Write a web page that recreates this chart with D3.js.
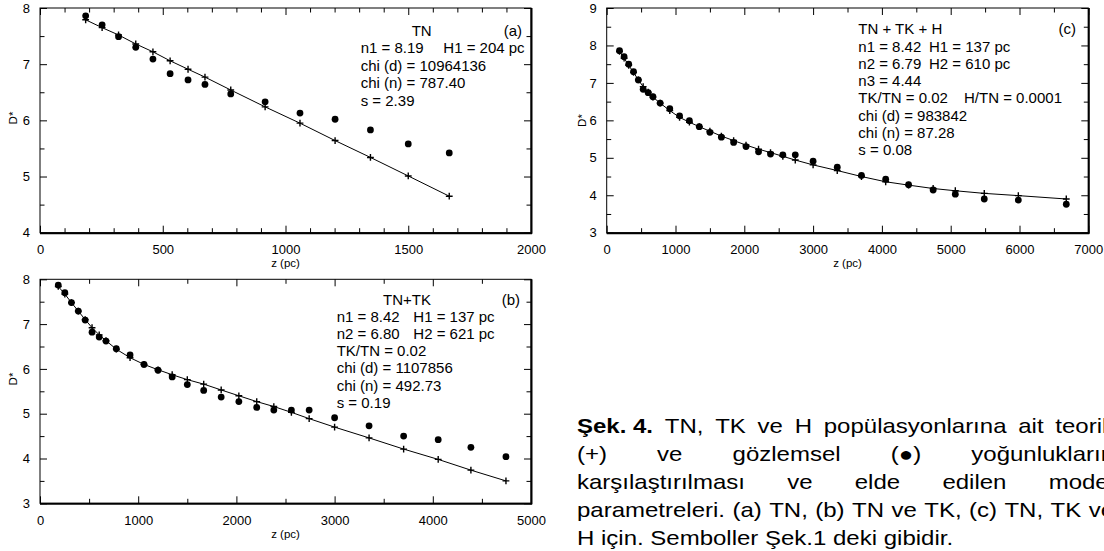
<!DOCTYPE html>
<html lang="tr">
<head>
<meta charset="utf-8">
<title>Şek. 4</title>
<script src="https://cdn.jsdelivr.net/npm/d3@7"></script>
<style>
  body { margin:0; background:#fff; }
  svg { display:block; font-family:"Liberation Sans", Arial, sans-serif; }
  .frame { fill:none; stroke:#000; stroke-width:1; }
  .edge { stroke:#000; stroke-width:2; }
  .axis path { display:none; }
  .axis line { stroke:#000; stroke-width:1; }
  .axis text { font-size:13px; fill:#000; font-family:"Liberation Sans", Arial, sans-serif; }
  .model { fill:none; stroke:#000; stroke-width:1; }
  .plus { fill:none; stroke:#000; stroke-width:1.4; }
  .dot { fill:#000; }
  .note { font-size:15px; fill:#000; }
  .title { font-size:11.5px; fill:#000; }
  .cap { font-size:20px; fill:#000; }
</style>
</head>
<body>
<script>
// z (pc) values of the counts
var zA = [186, 253, 320, 390, 460, 530, 603, 672, 777, 917, 1059, 1202, 1346, 1500, 1667];
var zB = zA.concat([1845, 2025, 2207, 2381, 2560, 2741, 3000, 3351, 3703, 4055, 4388, 4745]);
var zC = zB.concat([5067, 5488, 5983, 6680]);

// observed (dots) and model (+) log densities
var obsA = [7.86, 7.70, 7.49, 7.30, 7.09, 6.83, 6.72, 6.64, 6.47, 6.33, 6.13, 6.02, 5.83, 5.58, 5.42];
var modA = [7.79, 7.65, 7.52, 7.36, 7.22, 7.06, 6.91, 6.77, 6.54, 6.24, 5.95, 5.64, 5.34, 5.01, 4.65];

var obsB = [7.87, 7.70, 7.48, 7.29, 7.09, 6.82, 6.71, 6.62, 6.45, 6.31, 6.10, 5.97, 5.82, 5.65, 5.52,
            5.37, 5.27, 5.14, 5.08, 5.08, 5.08, 4.91, 4.73, 4.50, 4.42, 4.25, 4.04];
var modB = [7.84, 7.67, 7.48, 7.29, 7.10, 6.92, 6.76, 6.63, 6.44, 6.25, 6.10, 5.98, 5.87, 5.76, 5.66,
            5.53, 5.40, 5.27, 5.16, 5.03, 4.89, 4.70, 4.46, 4.21, 3.98, 3.74, 3.50];

var obsC = [7.86, 7.70, 7.50, 7.30, 7.08, 6.83, 6.74, 6.63, 6.46, 6.31, 6.12, 5.99, 5.83, 5.68, 5.55,
            5.41, 5.30, 5.16, 5.10, 5.08, 5.08, 4.91, 4.75, 4.53, 4.43, 4.28, 4.14, 4.03, 3.90, 3.87, 3.76];
var modC = [7.84, 7.66, 7.47, 7.28, 7.08, 6.90, 6.75, 6.62, 6.46, 6.26, 6.08, 5.95, 5.83, 5.71, 5.58,
            5.46, 5.34, 5.23, 5.14, 5.04, 4.94, 4.81, 4.66, 4.50, 4.36, 4.27, 4.18, 4.12, 4.05, 3.99, 3.90];

// text in the panels
var notesA = [["TN"], ["n1 = 8.19", "H1 = 204 pc"], ["chi (d) = 10964136"], ["chi (n) = 787.40"], ["s = 2.39"]];
var notesB = [["TN+TK"], ["n1 = 8.42", "H1 = 137 pc"], ["n2 = 6.80", "H2 = 621 pc"], ["TK/TN = 0.02"],
              ["chi (d) = 1107856"], ["chi (n) = 492.73"], ["s = 0.19"]];
var notesC = [["TN + TK + H"], ["n1 = 8.42", "H1 = 137 pc"], ["n2 = 6.79", "H2 = 610 pc"], ["n3 = 4.44"],
              ["TK/TN = 0.02", "H/TN = 0.0001"], ["chi (d) = 983842"], ["chi (n) = 87.28"], ["s = 0.08"]];

var capLines = [
  ["Şek. 4.", "TN,", "TK", "ve", "H", "popülasyonlarına", "ait", "teorik"],
  ["(+)", "ve", "gözlemsel", "(●)", "yoğunlukların"],
  ["karşılaştırılması", "ve", "elde", "edilen", "model"],
  ["parametreleri.", "(a)", "TN,", "(b)", "TN", "ve", "TK,", "(c)", "TN,", "TK", "ve"],
  ["H", "için.", "Semboller", "Şek.1", "deki", "gibidir."]
];

var w = 1104, h = 551;
var svg = d3.select("body").append("svg").attr("width", w).attr("height", h);

var panels = [
  { tag:"(a)", z:zA, obs:obsA, mod:modA, notes:notesA,
    L:40, R:531, T:8, B:232.7, xd:[0, 2000], yd:[4, 8], xMaj:500, xMin:100,
    noteX:360.7, col2:[0, 443.3], titleX:421.7, titleAnchor:"middle", base:36, step:17.4, tagX:522,
    yTitleX:16.5, yTitleY:118 },
  { tag:"(b)", z:zB, obs:obsB, mod:modB, notes:notesB,
    L:40, R:531, T:279.3, B:503.3, xd:[0, 5000], yd:[3, 8], xMaj:1000, xMin:500,
    noteX:336.7, col2:[0, 413.3, 413.3], titleX:407, titleAnchor:"middle", base:304.5, step:17.2, tagX:520,
    yTitleX:16.5, yTitleY:379 },
  { tag:"(c)", z:zC, obs:obsC, mod:modC, notes:notesC,
    L:606.7, R:1088.3, T:8, B:232.7, xd:[0, 7000], yd:[3, 9], xMaj:1000, xMin:500,
    noteX:858.3, col2:[0, 929, 929, 0, 964], titleX:858.3, titleAnchor:"start", base:34.2, step:17.3, tagX:1076,
    yTitleX:585.5, yTitleY:120.5 }
];

panels.forEach(function (p) {
  var x = d3.scaleLinear().domain(p.xd).range([p.L, p.R]);
  var y = d3.scaleLinear().domain(p.yd).range([p.B, p.T]);

  var xMajor = d3.range(p.xd[0], p.xd[1] + 1, p.xMaj);
  var xMinor = d3.range(p.xd[0], p.xd[1] + 1, p.xMin).filter(function (v) { return v % p.xMaj !== 0; });
  var yMajor = d3.range(p.yd[0], p.yd[1] + 0.01, 1);
  var yMinor = d3.range(p.yd[0] + 0.5, p.yd[1], 1);

  function addAxis(axis, tx, ty) {
    svg.append("g").attr("class", "axis")
       .attr("transform", "translate(" + tx + "," + ty + ")")
       .call(axis);
  }
  // labelled axes
  addAxis(d3.axisBottom(x).tickValues(xMajor).tickSizeInner(-7).tickSizeOuter(0).tickPadding(12.3)
            .tickFormat(d3.format("d")), 0, p.B);
  addAxis(d3.axisLeft(y).tickValues(yMajor).tickSizeInner(-7).tickSizeOuter(0).tickPadding(10)
            .tickFormat(d3.format("d")), p.L, 0);
  // minor ticks and mirrored ticks
  addAxis(d3.axisBottom(x).tickValues(xMinor).tickSizeInner(-4.5).tickSizeOuter(0).tickFormat(""), 0, p.B);
  addAxis(d3.axisTop(x).tickValues(xMajor).tickSizeInner(-7).tickSizeOuter(0).tickFormat(""), 0, p.T);
  addAxis(d3.axisTop(x).tickValues(xMinor).tickSizeInner(-4.5).tickSizeOuter(0).tickFormat(""), 0, p.T);
  addAxis(d3.axisLeft(y).tickValues(yMinor).tickSizeInner(-4.5).tickSizeOuter(0).tickFormat(""), p.L, 0);
  addAxis(d3.axisRight(y).tickValues(yMajor).tickSizeInner(-7).tickSizeOuter(0).tickFormat(""), p.R, 0);
  addAxis(d3.axisRight(y).tickValues(yMinor).tickSizeInner(-4.5).tickSizeOuter(0).tickFormat(""), p.R, 0);

  // frame, right and bottom edges a bit heavier
  svg.append("rect").attr("class", "frame")
     .attr("x", p.L).attr("y", p.T).attr("width", p.R - p.L).attr("height", p.B - p.T);
  svg.append("line").attr("class", "edge")
     .attr("x1", p.R + 0.5).attr("x2", p.R + 0.5).attr("y1", p.T).attr("y2", p.B + 1);
  svg.append("line").attr("class", "edge")
     .attr("x1", p.L).attr("x2", p.R + 1).attr("y1", p.B + 0.5).attr("y2", p.B + 0.5);

  // axis titles
  svg.append("text").attr("class", "title")
     .attr("x", (p.L + p.R) / 2).attr("y", p.B + 34.5)
     .attr("text-anchor", "middle").text("z (pc)");
  svg.append("text").attr("class", "title")
     .attr("transform", "translate(" + p.yTitleX + "," + p.yTitleY + ") rotate(-90)")
     .attr("text-anchor", "middle").text("D*");

  // model line and markers
  var pts = p.z.map(function (d, i) { return { z: d, obs: p.obs[i], mod: p.mod[i] }; });
  var line = d3.line()
               .x(function (d) { return x(d.z); })
               .y(function (d) { return y(d.mod); });
  svg.append("path").datum(pts).attr("class", "model").attr("d", line);

  svg.selectAll(null).data(pts).enter().append("path")
     .attr("class", "plus")
     .attr("transform", function (d) { return "translate(" + x(d.z) + "," + y(d.mod) + ")"; })
     .attr("d", "M-3.4,0H3.4M0,-3.4V3.4");

  svg.selectAll(null).data(pts).enter().append("circle")
     .attr("class", "dot")
     .attr("cx", function (d) { return x(d.z); })
     .attr("cy", function (d) { return y(d.obs); })
     .attr("r", 3.4);

  // fit parameters
  p.notes.forEach(function (row, i) {
    var yy = p.base + i * p.step;
    if (i === 0) {
      svg.append("text").attr("class", "note")
         .attr("x", p.titleX).attr("y", yy).attr("text-anchor", p.titleAnchor).text(row[0]);
      return;
    }
    svg.append("text").attr("class", "note").attr("x", p.noteX).attr("y", yy).text(row[0]);
    if (row.length > 1) {
      svg.append("text").attr("class", "note").attr("x", p.col2[i]).attr("y", yy).text(row[1]);
    }
  });
  svg.append("text").attr("class", "note")
     .attr("x", p.tagX).attr("y", p.base).attr("text-anchor", "end").text(p.tag);
});

// caption, justified lines
var capLeft = 577, capRight = 1114, capSX = 1.2;
var capBase = [433, 461, 489, 517, 545];

capLines.forEach(function (words, i) {
  var g = svg.append("g")
             .attr("transform", "translate(" + capLeft + "," + capBase[i] + ") scale(" + capSX + ",1)");
  var texts = words.map(function (wd, k) {
    var t = g.append("text").attr("class", "cap").text(wd);
    if (i === 0 && k === 0) t.attr("font-weight", "bold");
    return t;
  });
  var widths = texts.map(function (t) { return t.node().getComputedTextLength(); });
  var total = d3.sum(widths);
  var W = (capRight - capLeft) / capSX;
  var gap = (i < capLines.length - 1) ? (W - total) / (words.length - 1) : 20 * 0.278;
  var pos = 0;
  texts.forEach(function (t, k) {
    t.attr("x", pos);
    pos += widths[k] + gap;
  });
});
</script>
</body>
</html>
